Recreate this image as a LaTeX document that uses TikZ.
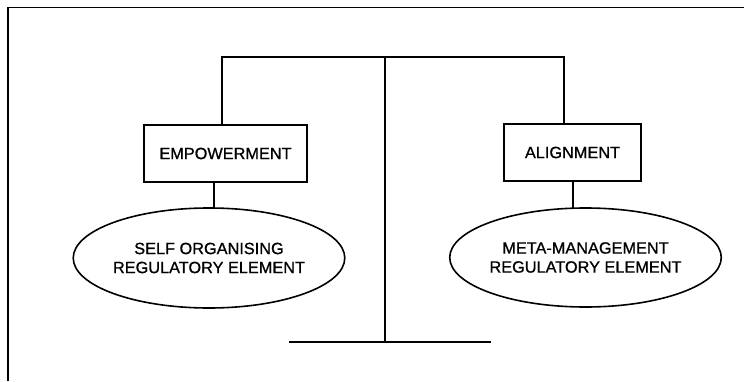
\documentclass[tikz,border=0pt]{standalone}
\usepackage{fontspec}
\setmainfont{Liberation Sans}
\newfontfamily\labelfont[FakeBold=0.9]{Liberation Sans}
\usetikzlibrary{shapes.geometric}
\begin{document}
\begin{tikzpicture}[x=1pt,y=1pt,
  line/.style={line width=1.6pt, line cap=rect},
  labelbox/.style={draw, line width=1.5pt, rectangle, minimum height=57pt,
    inner sep=0pt, font=\labelfont\fontsize{16.3}{19}\selectfont},
  regulator/.style={draw, line width=1.6pt, ellipse, minimum width=266pt,
    minimum height=100pt, inner sep=0pt, align=center,
    font=\labelfont\fontsize{16.3}{19}\selectfont}]
  \useasboundingbox (0,0) rectangle (744,381);

  % open frame: left and top edges
  \coordinate (frameBL) at (8,0);
  \coordinate (frameTL) at (8,373.5);
  \coordinate (frameTR) at (744,373.5);
  \draw[line width=1.7pt] (frameBL) -- (frameTL) -- (frameTR);

  % balance: beam, post and foot
  \coordinate (beamL) at (222,324);
  \coordinate (beamR) at (564,324);
  \coordinate (pivot) at (385,324);
  \coordinate (foot)  at (385,39);
  \coordinate (baseL) at (290,39);
  \coordinate (baseR) at (490,39);
  \draw[line] (beamL) -- (beamR);
  \draw[line] (pivot) -- (foot);
  \draw[line] (baseL) -- (baseR);

  % the two pans
  \node[labelbox, minimum width=163pt] (emp) at (225.5,227.5) {EMPOWERMENT};
  \node[labelbox, minimum width=137pt] (align) at (572.5,228.5) {ALIGNMENT};

  \node[regulator] (selforg) at (209,123)
    {SELF ORGANISING\\REGULATORY ELEMENT};
  \node[regulator, minimum width=267pt, minimum height=99pt] (metamgmt) at (585.5,123.5)
    {META-MANAGEMENT\\REGULATORY ELEMENT};

  % hangers from the beam
  \draw[line] (beamL) -- (beamL |- emp.north);
  \draw[line] (beamR) -- (beamR |- align.north);

  % links from boxes to regulatory elements
  \path (selforg.north) ++(5,0) coordinate (lj);
  \path (metamgmt.north) ++(-12.5,0) coordinate (rj);
  \draw[line] (emp.south -| lj) -- (lj);
  \draw[line] (align.south -| rj) -- (rj);
\end{tikzpicture}
\end{document}
